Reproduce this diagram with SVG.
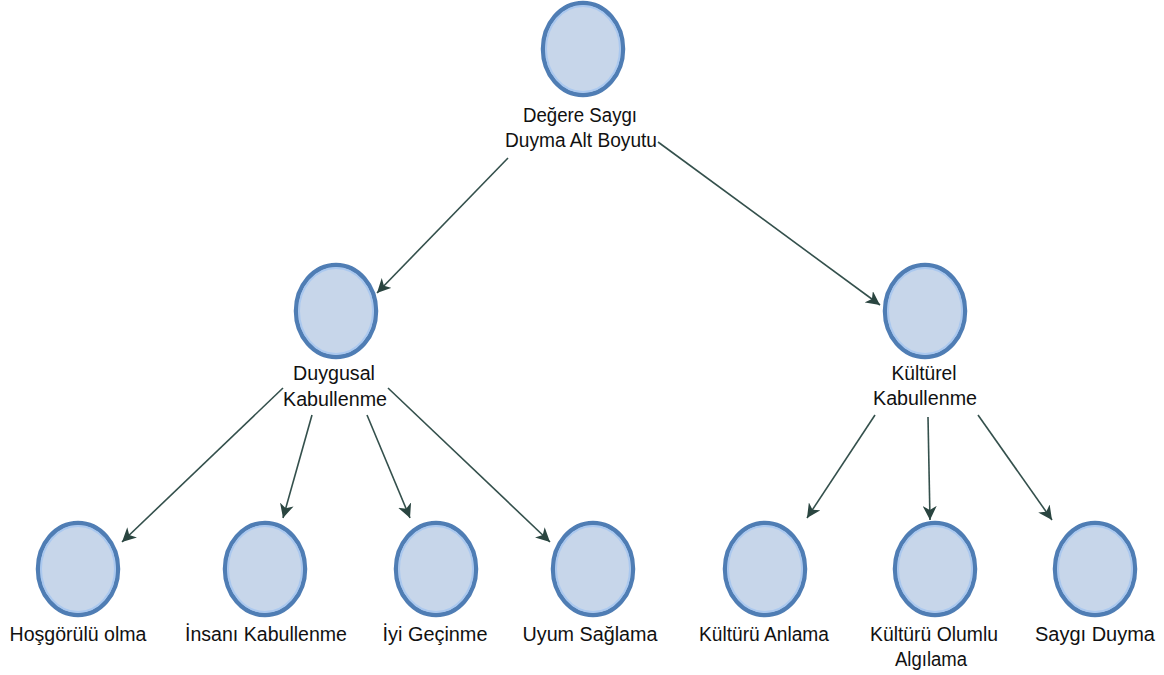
<svg xmlns="http://www.w3.org/2000/svg" width="1164" height="675" viewBox="0 0 1164 675">
  <style>
    .node-shape { fill: #c7d6ea; stroke: #4f7db4; stroke-width: 4.5; }
    .node-rim { fill: none; stroke: #aac8ef; stroke-width: 2; }
    .label { font-family: "Liberation Sans", Arial, sans-serif; font-size: 20px; fill: #111111; text-anchor: middle; }
    .edge { fill: none; stroke: #34504c; stroke-width: 1.6; marker-end: url(#arrow); }
  </style>
  <defs>
    <marker id="arrow" markerUnits="userSpaceOnUse" markerWidth="16" markerHeight="14" refX="14" refY="7" orient="auto">
      <path d="M0,0 L14,7 L0,14 L4,7 z" fill="#2a4540"/>
    </marker>
  </defs>
  <rect width="1164" height="675" fill="#ffffff"/>

  <!-- connectors -->
  <g id="connectors">
    <path class="edge" d="M508,158 L377,293"/>
    <path class="edge" d="M658,142 L880,305"/>
    <path class="edge" d="M283,388 L122,542"/>
    <path class="edge" d="M312,415 L283,518"/>
    <path class="edge" d="M367,415 L410,518"/>
    <path class="edge" d="M388,388 L550,542"/>
    <path class="edge" d="M875,415 L807,518"/>
    <path class="edge" d="M928,417 L930,520"/>
    <path class="edge" d="M978,415 L1052,520"/>
  </g>

  <!-- root -->
  <g id="node-root">
    <ellipse class="node-shape" cx="583" cy="49" rx="40" ry="46"/>
    <ellipse class="node-rim" cx="583" cy="49" rx="37" ry="43"/>
    <text class="label" x="580" y="122" textLength="114" lengthAdjust="spacingAndGlyphs">Değere Saygı</text>
    <text class="label" x="581" y="147" textLength="152" lengthAdjust="spacingAndGlyphs">Duyma Alt Boyutu</text>
  </g>

  <!-- second level -->
  <g id="node-duygusal">
    <ellipse class="node-shape" cx="336" cy="311" rx="40" ry="46"/>
    <ellipse class="node-rim" cx="336" cy="311" rx="37" ry="43"/>
    <text class="label" x="334" y="380" textLength="82" lengthAdjust="spacingAndGlyphs">Duygusal</text>
    <text class="label" x="335" y="406" textLength="104" lengthAdjust="spacingAndGlyphs">Kabullenme</text>
  </g>
  <g id="node-kulturel">
    <ellipse class="node-shape" cx="925" cy="311" rx="40" ry="46"/>
    <ellipse class="node-rim" cx="925" cy="311" rx="37" ry="43"/>
    <text class="label" x="924" y="380" textLength="65" lengthAdjust="spacingAndGlyphs">Kültürel</text>
    <text class="label" x="925" y="405" textLength="104" lengthAdjust="spacingAndGlyphs">Kabullenme</text>
  </g>

  <!-- leaves -->
  <g id="node-hosgorulu">
    <ellipse class="node-shape" cx="78" cy="569" rx="40" ry="46"/>
    <ellipse class="node-rim" cx="78" cy="569" rx="37" ry="43"/>
    <text class="label" x="78" y="641" textLength="137" lengthAdjust="spacingAndGlyphs">Hoşgörülü olma</text>
  </g>
  <g id="node-insani">
    <ellipse class="node-shape" cx="265" cy="569" rx="40" ry="46"/>
    <ellipse class="node-rim" cx="265" cy="569" rx="37" ry="43"/>
    <text class="label" x="266" y="641" textLength="162" lengthAdjust="spacingAndGlyphs">İnsanı Kabullenme</text>
  </g>
  <g id="node-iyi">
    <ellipse class="node-shape" cx="436" cy="569" rx="40" ry="46"/>
    <ellipse class="node-rim" cx="436" cy="569" rx="37" ry="43"/>
    <text class="label" x="435" y="641" textLength="105" lengthAdjust="spacingAndGlyphs">İyi Geçinme</text>
  </g>
  <g id="node-uyum">
    <ellipse class="node-shape" cx="593" cy="569" rx="40" ry="46"/>
    <ellipse class="node-rim" cx="593" cy="569" rx="37" ry="43"/>
    <text class="label" x="590" y="641" textLength="135" lengthAdjust="spacingAndGlyphs">Uyum Sağlama</text>
  </g>
  <g id="node-kulturu-anlama">
    <ellipse class="node-shape" cx="765" cy="569" rx="40" ry="46"/>
    <ellipse class="node-rim" cx="765" cy="569" rx="37" ry="43"/>
    <text class="label" x="764" y="641" textLength="130" lengthAdjust="spacingAndGlyphs">Kültürü Anlama</text>
  </g>
  <g id="node-kulturu-olumlu">
    <ellipse class="node-shape" cx="935" cy="569" rx="40" ry="46"/>
    <ellipse class="node-rim" cx="935" cy="569" rx="37" ry="43"/>
    <text class="label" x="934" y="641" textLength="128" lengthAdjust="spacingAndGlyphs">Kültürü Olumlu</text>
    <text class="label" x="931" y="666" textLength="72" lengthAdjust="spacingAndGlyphs">Algılama</text>
  </g>
  <g id="node-saygi-duyma">
    <ellipse class="node-shape" cx="1095" cy="569" rx="40" ry="46"/>
    <ellipse class="node-rim" cx="1095" cy="569" rx="37" ry="43"/>
    <text class="label" x="1095" y="641" textLength="120" lengthAdjust="spacingAndGlyphs">Saygı Duyma</text>
  </g>
</svg>
